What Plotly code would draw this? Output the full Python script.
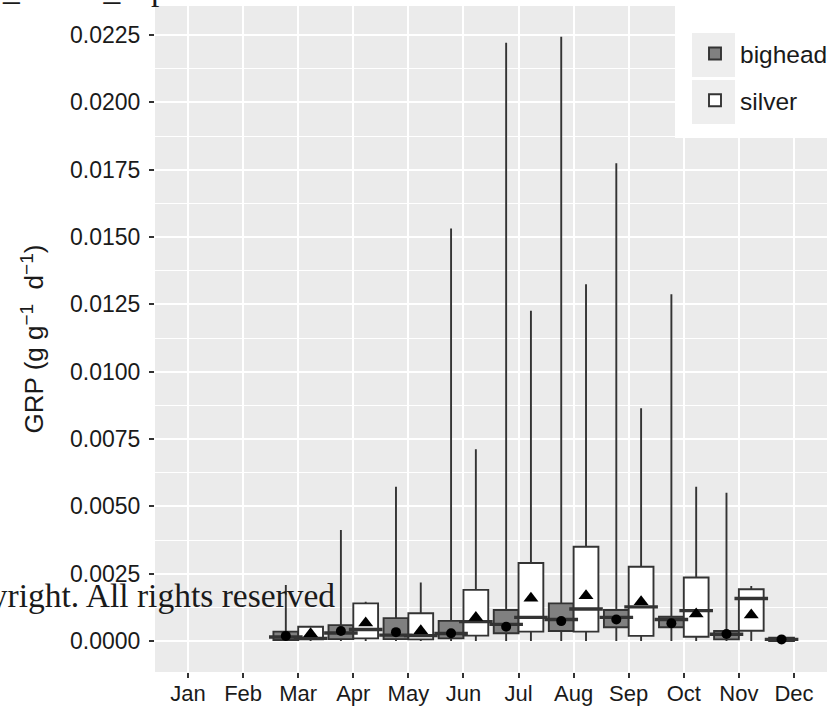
import plotly.graph_objects as go

months = ["Jan", "Feb", "Mar", "Apr", "May", "Jun", "Jul", "Aug", "Sep", "Oct", "Nov", "Dec"]

# bighead (Mar - Dec)
big_months = ["Mar", "Apr", "May", "Jun", "Jul", "Aug", "Sep", "Oct", "Nov", "Dec"]
big_lo = [0.0, 0.0, 0.0, 0.0, 0.0, 0.0, 0.0, 0.0, 0.0, -0.00001]
big_q1 = [0.00004, 0.00007, 0.00007, 0.00010, 0.00029, 0.00037, 0.00051, 0.00051, 0.00006, 0.0]
big_med = [0.00015, 0.00030, 0.00022, 0.00028, 0.00062, 0.00080, 0.00088, 0.00080, 0.00025, 0.00006]
big_q3 = [0.00035, 0.00059, 0.00085, 0.00075, 0.00115, 0.00140, 0.00115, 0.00090, 0.00037, 0.00012]
big_hi = [0.00208, 0.00412, 0.00573, 0.01532, 0.02222, 0.02244, 0.01774, 0.01288, 0.00551, 0.00014]
big_mean = [0.00019, 0.00037, 0.00033, 0.00029, 0.00053, 0.00074, 0.00080, 0.00066, 0.00026, 0.00006]

# silver (Mar - Nov)
sil_months = ["Mar", "Apr", "May", "Jun", "Jul", "Aug", "Sep", "Oct", "Nov"]
sil_lo = [0.0, 0.0, 0.0, 0.0, 0.0, 0.0, 0.0, 0.0, 0.0]
sil_q1 = [0.00006, 0.00010, 0.00006, 0.00020, 0.00035, 0.00035, 0.00019, 0.00016, 0.00038]
sil_med = [0.00010, 0.00043, 0.00020, 0.00072, 0.00088, 0.00119, 0.00127, 0.00113, 0.00158]
sil_q3 = [0.00053, 0.00140, 0.00103, 0.00190, 0.00290, 0.00350, 0.00276, 0.00236, 0.00192]
sil_hi = [0.00056, 0.00146, 0.00217, 0.00712, 0.01226, 0.01325, 0.00864, 0.00573, 0.00204]
sil_mean = [0.00027, 0.00067, 0.00038, 0.00087, 0.00159, 0.00168, 0.00146, 0.00100, 0.00097]

y_ticks = [0.0, 0.0025, 0.005, 0.0075, 0.01, 0.0125, 0.015, 0.0175, 0.02, 0.0225]
y_ticktext = ["0.0000", "0.0025", "0.0050", "0.0075", "0.0100", "0.0125", "0.0150", "0.0175", "0.0200", "0.0225"]

OUT = "#333333"
TXT = "#1a1a1a"
FONT = "Liberation Sans, Arial, sans-serif"
SERIF = "Liberation Serif, Times New Roman, serif"

DODGE = 0.225   # half of dodge width (0.9 / 2 / 2)
BOXW = 0.45

month_pos = {m: i + 1 for i, m in enumerate(months)}
big_x = [month_pos[m] - DODGE for m in big_months]
sil_x = [month_pos[m] + DODGE for m in sil_months]

fig = go.Figure()

fig.add_trace(go.Box(
    name="bighead", x=big_x, q1=big_q1, median=big_med, q3=big_q3,
    lowerfence=big_lo, upperfence=big_hi, width=BOXW, legendgroup="b",
    fillcolor="#808080", line=dict(color=OUT, width=1.9), whiskerwidth=0,
    boxpoints=False, hoverinfo="skip"))
fig.add_trace(go.Box(
    name="silver", x=sil_x, q1=sil_q1, median=sil_med, q3=sil_q3,
    lowerfence=sil_lo, upperfence=sil_hi, width=BOXW, legendgroup="s",
    fillcolor="#ffffff", line=dict(color=OUT, width=1.9), whiskerwidth=0,
    boxpoints=False, hoverinfo="skip"))

# thick median lines (ggplot style)
for xs, meds in ((big_x, big_med), (sil_x, sil_med)):
    fig.add_trace(go.Scatter(
        x=xs, y=meds, mode="markers", showlegend=False, hoverinfo="skip",
        marker=dict(symbol="line-ew", size=24, line=dict(color=OUT, width=3.4))))

# means
fig.add_trace(go.Scatter(
    x=big_x, y=big_mean, mode="markers", showlegend=False, hoverinfo="skip",
    marker=dict(symbol="circle", size=10, color="black")))
fig.add_trace(go.Scatter(
    x=sil_x, y=sil_mean, mode="markers", showlegend=False, hoverinfo="skip",
    marker=dict(symbol="triangle-up", size=13, color="black")))

# plot area in pixels: x 155..827, y 6..672
def px_x(p):
    return (p - 155) / 672.0

def px_y(p):
    return (672 - p) / 666.0

SUP = '<sup><span style="font-size:19px">−1</span></sup>'

shapes = [dict(type="rect", xref="paper", yref="paper", layer="above",
               x0=px_x(675), x1=px_x(832), y0=px_y(138), y1=px_y(0),
               fillcolor="white", line=dict(width=0))]
for top in (33, 80):
    shapes.append(dict(type="rect", xref="paper", yref="paper", layer="above",
                       x0=px_x(692), x1=px_x(735), y0=px_y(top + 44), y1=px_y(top),
                       fillcolor="#EEEEEE", line=dict(width=0)))

fig.update_layout(
    width=832, height=706,
    margin=dict(l=155, r=5, t=6, b=34, autoexpand=False),
    paper_bgcolor="white", plot_bgcolor="#EBEBEB",
    font=dict(family=FONT, size=22, color=TXT),
    showlegend=True,
    legend=dict(x=px_x(690), xanchor="left", y=px_y(31), yanchor="top",
                bgcolor="rgba(0,0,0,0)", traceorder="grouped", tracegroupgap=12,
                font=dict(size=24.5, family=FONT, color=TXT), itemwidth=40),
    xaxis=dict(range=[0.4, 12.6], tickvals=list(range(1, 13)), ticktext=months,
               showgrid=True, gridcolor="white", gridwidth=1.6, automargin=False,
               zeroline=False, ticks="outside", ticklen=5, tickwidth=1.5, tickcolor=OUT,
               ticklabelstandoff=-3,
               tickfont=dict(size=22, color=TXT)),
    yaxis=dict(range=[-0.00115, 0.02358], tickvals=y_ticks, ticktext=y_ticktext,
               showgrid=True, gridcolor="white", gridwidth=1.6, zeroline=False, automargin=False,
               ticks="outside", ticklen=5, tickwidth=1.5, tickcolor=OUT,
               ticklabelstandoff=4,
               tickfont=dict(size=23, color=TXT),
               minor=dict(dtick=0.00125, tick0=0.0, showgrid=True, gridcolor="white", gridwidth=0.8, ticks=""),
               title=dict(text="GRP (g g" + SUP + "  d" + SUP + ")",
                          font=dict(size=26, color=TXT), standoff=18)),
    shapes=shapes,
)

fig.add_annotation(text="Copyright. All rights reserved", xref="paper", yref="paper",
                   x=0.0, xshift=-155 + 337, xanchor="right", y=0.0, yshift=(672 - 616),
                   yanchor="bottom", showarrow=False,
                   font=dict(family=SERIF, size=33.5, color=TXT))
fig.add_annotation(text="_15802_ls.pdf", xref="paper", yref="paper",
                   x=0.0, xshift=-155, xanchor="left", y=1.0, yshift=-3, yanchor="bottom",
                   showarrow=False,
                   font=dict(family=SERIF, size=33.5, color=TXT))

fig.write_html("out.html")
